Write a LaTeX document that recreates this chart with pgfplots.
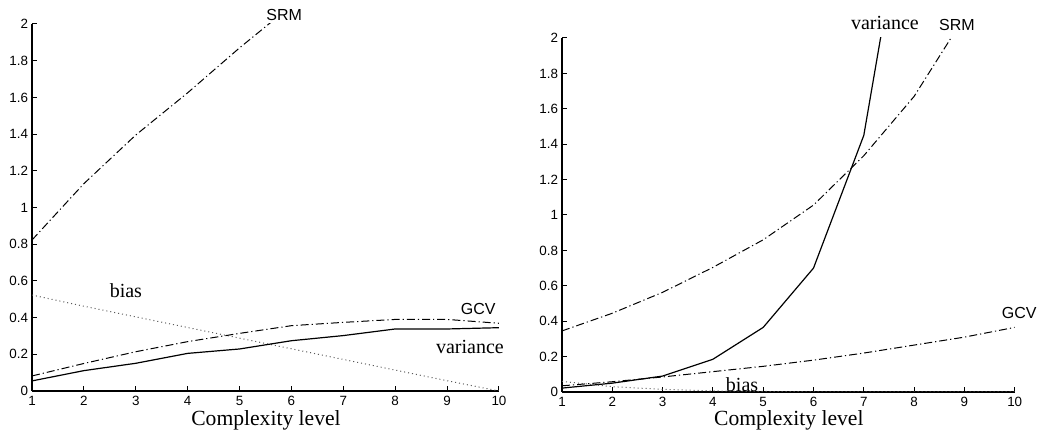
\documentclass[border=0pt]{standalone}
\usepackage{fontspec}
\setmainfont{Liberation Serif}
\setsansfont{Liberation Sans}
\usepackage{pgfplots}
\pgfplotsset{compat=1.18}

\pgfplotsset{
  cmplx/.style={
    scale only axis,
    axis x line=bottom, axis y line=left,
    axis line style={-, line width=0.6pt},
    tick align=inside, major tick length=2.5pt,
    tick style={line width=0.5pt, black},
    xmin=1, xmax=10, ymin=0, ymax=2,
    xtick={1,...,10}, ytick={0,0.2,...,2.01},
    /pgf/number format/assume math mode=true,
    tick label style={font=\sffamily\fontsize{6.7}{7}\selectfont, inner sep=0pt},
    xticklabel style={yshift=-2.4pt},
    yticklabel style={xshift=-1.8pt},
    clip mode=individual,
  },
}
\tikzset{
  dashdot/.style={black, line width=0.5pt, dash pattern=on 4pt off 1.5pt on 0.6pt off 1.5pt},
  dotbias/.style={black!65, line width=0.5pt, dash pattern=on 0.5pt off 1.5pt},
  solidvar/.style={black, line width=0.6pt},
  lab/.style={font=\fontsize{10}{11}\selectfont},
  slab/.style={font=\sffamily\fontsize{8}{9}\selectfont},
  xlab/.style={anchor=base, inner sep=0pt, font=\fontsize{10.8}{12}\selectfont},
}

\begin{document}
\begin{tikzpicture}
\useasboundingbox (0,0) rectangle (519.5pt,216.5pt);

% left panel
\begin{axis}[cmplx, at={(16pt,21pt)}, anchor=south west,
  width=233.5pt, height=183.5pt]
\addplot[dashdot] coordinates {(1,0.823) (2,1.13) (3,1.395) (4,1.625) (5,1.87) (6,2.10) (7,2.33)};
\addplot[dotbias] coordinates {(1,0.523) (2,0.462) (3,0.404) (4,0.346) (5,0.288) (6,0.23) (7,0.172) (8,0.114) (9,0.056) (10,0.0)};
\addplot[dashdot] coordinates {(1,0.082) (2,0.15) (3,0.214) (4,0.269) (5,0.314) (6,0.356) (7,0.374) (8,0.39) (9,0.39) (10,0.369)};
\addplot[solidvar] coordinates {(1,0.055) (2,0.111) (3,0.151) (4,0.205) (5,0.229) (6,0.274) (7,0.302) (8,0.338) (9,0.338) (10,0.345)};
\node[slab] at (axis cs:5.86,2.05) {SRM};
\node[lab] at (axis cs:2.81,0.545) {bias};
\node[slab] at (axis cs:9.6,0.447) {GCV};
\node[lab] at (axis cs:9.44,0.24) {variance};
\node[xlab] at (axis cs:5.51,-0.187) {Complexity level};
\end{axis}

% right panel
\begin{axis}[cmplx, at={(281pt,20.5pt)}, anchor=south west,
  width=226.35pt, height=177pt]
\addplot[dashdot] coordinates {(1,0.345) (2,0.445) (3,0.563) (4,0.704) (5,0.86) (6,1.056) (7,1.335) (8,1.67) (9,2.12) (10,2.65)};
\addplot[solidvar] coordinates {(1,0.022) (2,0.05) (3,0.09) (4,0.185) (5,0.365) (6,0.70) (7,1.45) (8,3.1)};
\addplot[dashdot] coordinates {(1,0.035) (2,0.058) (3,0.085) (4,0.115) (5,0.145) (6,0.18) (7,0.22) (8,0.265) (9,0.31) (10,0.365)};
\addplot[dotbias] coordinates {(1,0.06) (2,0.03) (3,0.015) (4,0.006) (5,0.003) (6,0.001) (7,0.0005) (8,0.0003) (9,0.0002) (10,0.0001)};
\node[lab] at (axis cs:7.42,2.086) {variance};
\node[slab] at (axis cs:8.85,2.073) {SRM};
\node[slab] at (axis cs:10.09,0.446) {GCV};
\node[lab] at (axis cs:4.58,0.04) {bias};
\node[xlab] at (axis cs:5.51,-0.19) {Complexity level};
\end{axis}
\end{tikzpicture}
\end{document}
